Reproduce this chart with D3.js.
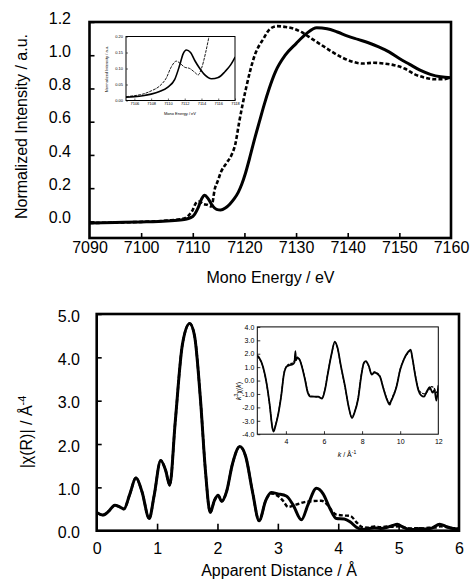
<!DOCTYPE html>
<html><head><meta charset="utf-8">
<script src="https://cdn.jsdelivr.net/npm/d3@7"></script>
<style>
body{margin:0;background:#fff}
svg{display:block}
text{font-family:"Liberation Sans",Arial,Helvetica,sans-serif;fill:#000}
</style>
</head><body>
<svg id="c" width="471" height="580"></svg>
<script>
// ---------- DATA ----------
// XANES (main, top panel)
const xanesSolidE = [7090,7095,7100,7105,7108,7110,7111,7111.7,7112.3,7113,7113.8,7114.6,7115.4,7116.3,7117.2,7118,7118.8,7119.5,7120.2,7121,7122,7122.9,7123.8,7124.8,7126,7127.9,7130,7132,7134,7136,7138,7140,7142,7144,7146,7148,7150,7152,7154,7156,7158,7160];
const xanesSolid  = [-0.01,-0.007,-0.003,0.003,0.01,0.03,0.08,0.135,0.157,0.135,0.095,0.072,0.068,0.08,0.105,0.135,0.175,0.225,0.29,0.38,0.5,0.6,0.7,0.8,0.9,1.0,1.07,1.13,1.165,1.16,1.14,1.115,1.095,1.075,1.05,1.02,0.98,0.945,0.91,0.885,0.87,0.865];
const xanesDashE  = [7090,7095,7100,7105,7108,7109,7110,7110.6,7111.2,7112,7112.8,7113.6,7114.3,7114.8,7115.5,7116.5,7117.5,7118.2,7119,7120.3,7122,7123.7,7125,7126.3,7128,7129.5,7131,7133,7135,7137,7139,7141,7143,7145,7147,7149,7151,7153,7155,7157,7158.5,7160];
const xanesDash   = [-0.01,-0.007,-0.003,0.005,0.015,0.03,0.07,0.11,0.12,0.105,0.1,0.09,0.2,0.24,0.3,0.35,0.4,0.46,0.6,0.8,1.0,1.1,1.16,1.175,1.17,1.16,1.14,1.1,1.06,1.02,0.985,0.96,0.95,0.955,0.95,0.94,0.92,0.885,0.865,0.855,0.855,0.87];
const xanesTicksX = [7090,7100,7110,7120,7130,7140,7150,7160];
const xanesTicksY = [0,0.2,0.4,0.6,0.8,1.0,1.2];

// Pre-edge (inset, top panel)
const preSolidE = [7105,7106,7107,7108,7109,7110,7110.8,7111.4,7111.8,7112.2,7112.7,7113.2,7113.8,7114.4,7115.2,7116,7116.8,7117.5,7118];
const preSolid  = [0.01,0.012,0.015,0.02,0.028,0.042,0.065,0.11,0.145,0.158,0.15,0.125,0.1,0.08,0.068,0.072,0.09,0.112,0.135];
const preDashE  = [7105,7106,7107,7108,7109,7109.8,7110.4,7111,7111.5,7112,7112.6,7113.2,7113.6,7114,7114.5,7114.9,7115.2];
const preDash   = [0.012,0.015,0.02,0.03,0.045,0.07,0.105,0.123,0.115,0.104,0.1,0.088,0.08,0.1,0.15,0.2,0.24];
const preTicksX = [7106,7108,7110,7112,7114,7116,7118];
const preTicksY = [0,0.05,0.10,0.15,0.20];

// |chi(R)| (main, bottom panel)
const chiRSolidR = [0,0.1,0.2,0.3,0.38,0.45,0.55,0.65,0.75,0.87,0.95,1.06,1.14,1.21,1.3,1.42,1.54,1.62,1.72,1.8,1.88,1.95,2.01,2.07,2.15,2.25,2.37,2.47,2.58,2.69,2.8,2.89,3.0,3.14,3.25,3.39,3.5,3.64,3.75,3.85,3.97,4.1,4.2,4.3,4.4,4.5,4.6,4.7,4.8,4.9,4.98,5.05,5.15,5.25,5.35,5.45,5.55,5.68,5.8,5.9,6.0];
const chiRSolid  = [0.42,0.36,0.45,0.59,0.55,0.5,0.85,1.22,0.9,0.28,0.8,1.62,1.4,1.05,2.5,4.3,4.78,4.5,3.0,1.4,0.42,0.7,0.82,0.68,0.9,1.55,1.94,1.7,0.9,0.23,0.7,0.88,0.85,0.8,0.6,0.25,0.6,0.98,0.85,0.55,0.28,0.27,0.2,0.08,0.03,0.05,0.07,0.05,0.07,0.12,0.15,0.1,0.04,0.03,0.05,0.04,0.06,0.15,0.09,0.05,0.04];
const chiRDashR  = [0,0.1,0.2,0.3,0.38,0.45,0.55,0.65,0.75,0.87,0.95,1.06,1.14,1.21,1.3,1.42,1.54,1.62,1.72,1.8,1.88,1.95,2.01,2.07,2.15,2.25,2.37,2.47,2.58,2.69,2.8,2.89,3.0,3.08,3.17,3.3,3.48,3.72,3.82,3.9,3.97,4.1,4.2,4.3,4.4,4.5,4.6,4.7,4.8,4.9,5.0,5.1,5.2,5.3,5.4,5.5,5.6,5.7,5.8,5.9,6.0];
const chiRDash   = [0.42,0.36,0.45,0.59,0.55,0.5,0.85,1.22,0.9,0.28,0.8,1.62,1.4,1.05,2.5,4.3,4.78,4.5,3.0,1.4,0.42,0.7,0.82,0.68,0.9,1.55,1.94,1.7,0.9,0.23,0.7,0.86,0.8,0.7,0.55,0.6,0.67,0.69,0.6,0.45,0.37,0.35,0.34,0.2,0.08,0.07,0.1,0.08,0.1,0.09,0.1,0.07,0.05,0.06,0.05,0.07,0.07,0.1,0.08,0.06,0.05];
const chiRTicksX = [0,1,2,3,4,5,6];
const chiRTicksY = [0,1,2,3,4,5];

// k^3 chi(k) (inset, bottom panel)
const kSolidK = [2.5,2.6,2.8,3.0,3.15,3.3,3.36,3.45,3.6,3.75,3.9,4.05,4.2,4.35,4.45,4.5,4.53,4.6,4.7,4.85,5.0,5.15,5.3,5.5,5.7,5.9,6.05,6.2,6.4,6.57,6.7,6.9,7.1,7.3,7.47,7.6,7.8,7.95,8.1,8.2,8.35,8.5,8.65,8.8,8.95,9.1,9.3,9.45,9.5,9.6,9.8,10.0,10.2,10.4,10.55,10.65,10.8,10.95,11.1,11.25,11.4,11.55,11.7,11.8,11.9,12.0];
const kSolid  = [1.85,1.7,1.03,-0.3,-1.8,-3.6,-3.8,-3.4,-2.5,-1.2,0.5,1.05,1.15,1.2,1.35,2.2,1.5,1.7,1.6,1.0,0.1,-0.9,-1.2,-1.2,-1.2,-1.35,-0.7,0.5,2.0,2.9,2.5,1.0,-0.4,-2.0,-2.8,-2.4,-1.3,0.3,1.35,1.45,1.1,0.45,0.6,0.5,0.25,-0.5,-1.4,-1.8,-1.6,-1.3,-0.5,0.8,1.6,2.1,2.3,1.6,0.3,-0.7,-1.1,-1.2,-0.8,-0.5,-0.9,-0.7,-1.5,-0.4];
const kDashK  = [2.5,2.6,2.8,3.0,3.15,3.3,3.36,3.45,3.6,3.75,3.9,4.05,4.2,4.35,4.5,4.6,4.7,4.85,5.0,5.15,5.3,5.5,5.7,5.9,6.05,6.2,6.4,6.57,6.7,6.9,7.1,7.3,7.47,7.6,7.8,7.95,8.1,8.2,8.35,8.5,8.65,8.8,8.95,9.1,9.3,9.45,9.6,9.8,10.0,10.2,10.4,10.55,10.65,10.8,10.95,11.1,11.3,11.5,11.65,11.8,11.9,12.0];
const kDash   = [1.8,1.65,1.0,-0.35,-1.85,-3.55,-3.75,-3.35,-2.45,-1.15,0.55,1.1,1.25,1.3,1.6,1.75,1.6,1.05,0.15,-0.85,-1.15,-1.2,-1.25,-1.3,-0.65,0.55,2.0,2.85,2.45,0.95,-0.45,-1.95,-2.75,-2.35,-1.25,0.35,1.3,1.4,1.05,0.5,0.65,0.55,0.3,-0.45,-1.35,-1.65,-1.2,-0.45,0.85,1.6,2.05,2.25,1.55,0.35,-0.6,-0.9,-1.0,-0.7,-0.45,-0.6,-0.9,-0.6];
const kTicksX = [4,6,8,10,12];
const kTicksY = [-4,-3,-2,-1,0,1,2,3,4];

// ---------- DRAW ----------
const svg = d3.select("#c");
const FONT = "Liberation Sans, Arial, Helvetica, sans-serif";
const zip = (a,b) => a.map((v,i)=>[v,b[i]]);
let clipId = 0;

function drawPanel(o){
  const x = d3.scaleLinear().domain(o.xd).range([o.x0,o.x1]);
  const y = d3.scaleLinear().domain(o.yd).range([o.y1,o.y0]);
  const g = svg.append("g");
  if (o.fillWhite) g.append("rect").attr("x",o.x0).attr("y",o.y0).attr("width",o.x1-o.x0).attr("height",o.y1-o.y0).attr("fill","#fff");
  const id = "clip"+(clipId++);
  g.append("clipPath").attr("id",id).append("rect").attr("x",o.x0).attr("y",o.y0).attr("width",o.x1-o.x0).attr("height",o.y1-o.y0);
  const line = d3.line().x(d=>x(d[0])).y(d=>y(d[1])).curve(d3.curveMonotoneX);
  const lg = g.append("g").attr("clip-path",`url(#${id})`);
  o.series.forEach(s=>{
    lg.append("path").attr("d",line(zip(s.x,s.y))).attr("fill","none")
      .attr("stroke","#000").attr("stroke-width",s.w).attr("stroke-dasharray",s.dash||null)
      .attr("stroke-linejoin","round").attr("stroke-linecap", s.dash? "butt":"round");
  });
  const ax = g.append("g").attr("transform",`translate(0,${o.y1})`)
    .call(d3.axisBottom(x).tickValues(o.xt).tickFormat(o.xf).tickSize(-o.tlx).tickSizeOuter(0).tickPadding(o.xpad));
  ax.select(".domain").remove();
  ax.attr("font-family",FONT).attr("font-size",o.fs);
  ax.selectAll("line").attr("stroke-width",o.tw);
  const ay = g.append("g").attr("transform",`translate(${o.x0},0)`)
    .call(d3.axisLeft(y).tickValues(o.yt).tickFormat(o.yf).tickSize(-o.tly).tickSizeOuter(0).tickPadding(o.ypad));
  ay.select(".domain").remove();
  ay.attr("font-family",FONT).attr("font-size",o.fs);
  ay.selectAll("line").attr("stroke-width",o.tw);
  if (o.yshift) ay.selectAll("text").attr("y",o.yshift);
  if (o.hideX) ax.selectAll("line").filter(d=>o.hideX.includes(d)).remove();
  g.append("rect").attr("x",o.x0).attr("y",o.y0).attr("width",o.x1-o.x0).attr("height",o.y1-o.y0)
    .attr("fill","none").attr("stroke","#000").attr("stroke-width",o.fw);
  return {x,y,g};
}

const f1 = v => v.toFixed(1);
const f2 = v => v.toFixed(2);
const f0 = v => String(v);

drawPanel({xd:[7090,7160], yd:[-0.1,1.2], x0:89.5, x1:451, y0:22, y1:238,
  series:[{x:xanesDashE,y:xanesDash,w:2.6,dash:"4,2.2"},{x:xanesSolidE,y:xanesSolid,w:3}],
  xt:xanesTicksX, yt:xanesTicksY, xf:f0, yf:f1, tlx:5, tly:5, xpad:4, ypad:18.5, fs:16, tw:1.6, fw:2.6, yshift:-4,
  hideX:[7090,7160]});
drawPanel({xd:[7105,7118], yd:[0,0.2], x0:126, x1:235, y0:36.5, y1:100.5, fillWhite:true,
  series:[{x:preDashE,y:preDash,w:0.9,dash:"3,1"},{x:preSolidE,y:preSolid,w:1.6}],
  xt:preTicksX, yt:preTicksY, xf:f0, yf:f2, tlx:2, tly:2, xpad:2, ypad:3, fs:4, tw:0.6, fw:1});

drawPanel({xd:[0,6], yd:[0,5], x0:96.7, x1:459, y0:314, y1:530.7,
  series:[{x:chiRDashR,y:chiRDash,w:2.4,dash:"4,2.2"},{x:chiRSolidR,y:chiRSolid,w:3}],
  xt:chiRTicksX, yt:chiRTicksY, xf:f0, yf:f1, tlx:7, tly:5, xpad:12, ypad:16.7, fs:16, tw:1.6, fw:2.6, yshift:2,
  hideX:[0,6]});
drawPanel({xd:[2.5,12], yd:[-4,4], x0:257.3, x1:438.3, y0:326.9, y1:434.2, fillWhite:true,
  series:[{x:kDashK,y:kDash,w:1.2,dash:"3,1"},{x:kSolidK,y:kSolid,w:1.8}],
  xt:kTicksX, yt:kTicksY, xf:f0, yf:f1, tlx:3, tly:3, xpad:5, ypad:3, fs:7, tw:0.8, fw:1, hideX:[12]});

function title(x,y,rot,size){
  return svg.append("text").attr("font-size",size).attr("text-anchor","middle")
    .attr("transform",`translate(${x},${y})${rot?" rotate(-90)":""}`).attr("dy","0.35em");
}
title(21,126.5,true,16).text("Normalized Intensity / a.u.");
title(270.5,277,false,16).text("Mono Energy / eV");
title(279,570,false,16).text("Apparent Distance / Å");
{
  const t = title(26,432,true,16);
  t.append("tspan").text("|χ(R)| / Å");
  t.append("tspan").attr("font-size",11).attr("dy","-0.55em").text("-4");
}
title(107,69,true,4).text("Normalized Intensity / a.u.");
title(180,114,false,4).text("Mono Energy / eV");
{
  const t = title(239,391,true,7);
  t.append("tspan").attr("font-style","italic").text("k");
  t.append("tspan").attr("font-size",5).attr("dy","-0.7em").text("3");
  t.append("tspan").attr("dy","0.5em").text("χ(");
  t.append("tspan").attr("font-style","italic").text("k");
  t.append("tspan").text(")");
}
{
  const t = title(347,455,false,7);
  t.append("tspan").attr("font-style","italic").text("k");
  t.append("tspan").text(" / Å");
  t.append("tspan").attr("font-size",5).attr("dy","-0.7em").text("-1");
}
</script>
</body></html>
